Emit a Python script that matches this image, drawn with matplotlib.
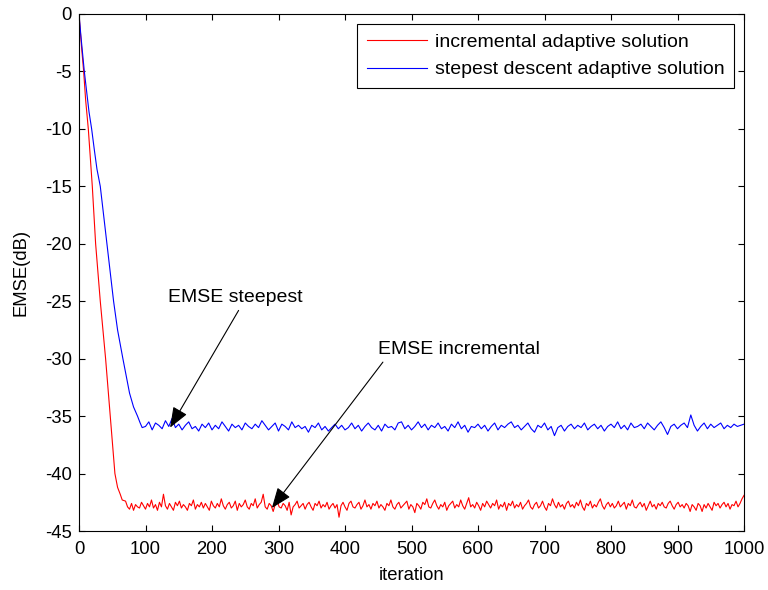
import numpy as np
import matplotlib
matplotlib.use("Agg")
import matplotlib.pyplot as plt

plt.rcParams['font.family'] = ['Liberation Sans', 'DejaVu Sans']
plt.rcParams['axes.unicode_minus'] = False

# ---- data: incremental (red) ----
red_trans_iter = [0, 2, 4, 7, 10, 14, 17, 20, 25, 32, 40, 47, 54, 58, 62, 65]
red_trans_val = [0, -1.5, -3, -5, -7.5, -10, -12.5, -15, -20, -25, -30, -35, -40, -41.2, -41.8, -42.3]
red_flat_start, red_flat_step = 70, 3
red_flat_val = [
    -42.4, -42.9, -43.1, -42.6, -43.2, -42.7, -42.9, -43.0, -42.5, -42.8,
    -43.1, -42.6, -42.9, -42.3, -43.0, -42.7, -43.2, -42.5, -42.9, -41.8,
    -42.8, -43.1, -42.6, -42.9, -43.2, -42.5, -42.8, -42.4, -43.0, -42.7,
    -42.9, -43.2, -42.6, -42.8, -42.3, -43.1, -42.7, -42.9, -42.5, -43.0,
    -42.6, -42.9, -43.2, -42.4, -42.8, -43.0, -42.6, -42.9, -42.2, -42.8,
    -43.1, -42.7, -42.5, -43.0, -42.8, -42.4, -43.2, -42.6, -42.9, -42.7,
    -42.3, -42.9, -43.1, -42.6, -42.8, -42.2, -43.0, -42.7, -42.5, -41.8,
    -42.9, -43.1, -42.6, -42.8, -43.3, -42.7, -42.4, -42.9, -43.0, -42.6,
    -42.8, -43.2, -42.5, -43.6, -42.9, -42.7, -42.4, -43.0, -42.8, -42.6,
    -43.1, -42.7, -42.5, -42.9, -43.2, -42.6, -42.8, -42.4, -43.0, -42.7,
    -42.9, -42.5, -43.1, -42.8, -42.6, -43.0, -42.7, -43.8, -42.8, -42.5,
    -42.9, -43.2, -42.6, -42.4, -42.9, -43.0, -42.7, -42.5, -43.1, -42.8,
    -42.3, -42.9, -42.7, -43.1, -42.6, -42.8, -42.4, -43.0, -42.7, -42.9,
    -43.2, -42.6, -42.8, -42.3, -42.9, -43.1, -42.7, -42.5, -43.0, -42.8,
    -42.6, -42.4, -43.1, -42.7, -42.9, -43.4, -42.6, -42.8, -43.1, -42.5,
    -42.7, -42.2, -42.9, -43.0, -42.6, -42.3, -42.8, -43.1, -42.7, -42.9,
    -42.5, -43.2, -42.8, -42.6, -42.4, -43.0, -42.7, -42.9, -42.3, -42.8,
    -43.1, -42.6, -42.1, -42.9, -42.7, -43.0, -42.5, -42.8, -43.2, -42.6,
    -42.9, -42.4, -42.7, -43.0, -42.6, -42.8, -42.3, -43.1, -42.7, -42.9,
    -42.5, -43.2, -42.6, -42.8, -42.4, -43.0, -42.7, -42.9, -42.5, -43.1,
    -42.8, -42.6, -42.3, -42.9, -43.1, -42.7, -42.5, -43.0, -42.8, -42.4,
    -42.9, -43.2, -42.6, -42.8, -42.2, -42.7, -43.0, -42.5, -42.9, -42.7,
    -43.1, -42.6, -42.4, -42.9, -42.7, -43.0, -42.5, -42.8, -42.3, -42.9,
    -43.2, -42.6, -42.8, -42.4, -43.0, -42.7, -42.9, -42.5, -42.2, -42.8,
    -43.1, -42.7, -42.5, -42.9, -42.6, -43.0, -42.8, -42.4, -42.9, -42.7,
    -42.5, -43.1, -42.6, -42.8, -42.3, -42.9, -43.0, -42.7, -42.5, -42.9,
    -42.6, -43.2, -42.8, -42.4, -42.9, -42.7, -43.1, -42.6, -42.8, -42.5,
    -42.9, -43.0, -42.6, -42.4, -42.8, -43.1, -42.7, -42.5, -42.9, -42.7,
    -43.0, -42.6, -42.8, -43.3, -42.7, -42.9, -43.2, -42.6, -42.8, -43.3,
    -42.7, -43.0, -42.6, -42.9, -43.2, -42.5, -42.8, -42.6, -43.0, -42.7,
    -42.5, -42.9, -42.6, -43.1, -42.7, -42.8, -42.4, -42.9, -42.6, -42.2,
    -41.9,
]

# ---- data: steepest descent (blue) ----
blue_trans_iter = [0, 3, 5, 8, 12, 15, 19, 23, 27, 32, 37, 42, 47, 52, 58, 66, 71, 76, 82, 88, 92, 95]
blue_trans_val = [0, -2, -3.2, -5, -7, -8.5, -10, -11.8, -13.5, -15, -17.5, -20, -22.5, -25, -27.5,
                  -30, -31.5, -33, -34.2, -35, -35.6, -36.0]
blue_flat_start, blue_flat_step = 100, 5
blue_flat_val = [
    -35.9, -35.5, -36.2, -35.6, -35.8, -36.1, -35.4, -35.9, -35.2, -36.0,
    -35.7, -36.2, -35.8, -35.5, -36.1, -35.9, -36.3, -35.7, -36.0, -35.6,
    -36.2, -35.8, -36.1, -35.5, -35.9, -36.3, -35.7, -36.0, -35.8, -36.2,
    -35.6, -35.9, -36.1, -35.7, -36.0, -35.4, -35.8, -36.2, -35.9, -35.6,
    -36.3, -35.7, -35.9, -36.2, -35.5, -36.0, -35.8, -36.1, -35.9, -36.4,
    -35.8, -36.0, -35.6, -36.2, -35.9, -36.3, -36.0, -35.7, -36.1, -35.8,
    -36.2, -36.0, -35.6, -36.1, -35.8, -36.3, -35.9, -35.6, -36.0, -36.2,
    -35.8, -36.3, -35.7, -36.0, -35.9, -36.2, -35.6, -35.5, -36.1, -35.8,
    -36.2, -35.9, -35.5, -36.0, -35.7, -36.2, -35.8, -36.0, -35.6, -36.1,
    -35.9, -36.3, -35.7, -36.0, -35.5, -36.1, -35.8, -36.4, -35.9, -36.0,
    -35.7, -36.1, -35.8, -36.3, -35.9, -35.6, -36.2, -35.8, -36.0, -35.7,
    -35.5, -36.0, -35.8, -36.2, -35.9, -35.6, -36.1, -36.4, -35.8, -36.0,
    -35.6, -36.2, -35.9, -36.7, -36.0, -35.8, -36.3, -35.9, -35.7, -36.1,
    -35.8, -36.0, -35.6, -36.2, -35.9, -35.7, -36.1, -35.8, -36.3, -35.9,
    -35.7, -36.0, -35.5, -36.1, -35.8, -36.2, -35.6, -36.0, -35.9, -35.7,
    -36.1, -35.6, -35.9, -36.2, -35.8, -35.5, -36.0, -36.6, -35.9, -35.7,
    -36.1, -35.8, -35.6, -36.0, -34.9, -35.8, -36.3, -35.9, -35.6, -36.1,
    -35.7, -36.0, -35.8, -35.6, -36.1, -35.8, -36.0, -35.7, -35.9, -35.8,
    -35.7,
]

xticks = list(range(0, 1001, 100))
yticks = list(range(-45, 1, 5))
legend_labels = ['incremental adaptive solution', 'stepest descent adaptive solution']

red_x = red_trans_iter + [red_flat_start + red_flat_step * i for i in range(len(red_flat_val))]
red_y = red_trans_val + red_flat_val
blue_x = blue_trans_iter + [blue_flat_start + blue_flat_step * i for i in range(len(blue_flat_val))]
blue_y = blue_trans_val + blue_flat_val

fig = plt.figure(figsize=(7.68, 5.90), dpi=100)
ax = fig.add_axes([79/768, 1 - 531/590, (744 - 79)/768, (531 - 14)/590])

ax.plot(red_x, red_y, color=(1, 0, 0), lw=0.8, label=legend_labels[0])
ax.plot(blue_x, blue_y, color=(0, 0, 1), lw=0.8, label=legend_labels[1])

ax.set_xlim(0, 1000)
ax.set_ylim(-45, 0)
ax.set_xticks(xticks)
ax.set_yticks(yticks)
ax.tick_params(direction='in', top=True, right=True, labelsize=13.3, length=4, width=0.8, pad=5)
ax.tick_params(axis='x', pad=7.5)
for s in ax.spines.values():
    s.set_linewidth(0.8)

ax.set_xlabel('iteration', fontsize=13.3, labelpad=6)
ax.set_ylabel('EMSE(dB)', fontsize=13.3, labelpad=11)

leg = ax.legend(loc='upper right', fontsize=14, handlelength=3.1, handletextpad=0.4,
                borderaxespad=0.5, borderpad=0.5, fancybox=False, framealpha=1,
                edgecolor='black', labelspacing=0.5)
leg.get_frame().set_linewidth(0.8)

arrow_kw = dict(arrowstyle='-|>,head_length=0.9,head_width=0.35', color='black', lw=0.8,
                shrinkA=0, shrinkB=0, mutation_scale=14)
ax.text(134, -24.7, 'EMSE steepest', fontsize=14, va='center', ha='left')
ax.annotate('', xy=(137, -36.0), xytext=(240, -25.8), arrowprops=arrow_kw)
ax.text(450, -29.2, 'EMSE incremental', fontsize=14, va='center', ha='left')
ax.annotate('', xy=(290, -43.0), xytext=(457, -30.3), arrowprops=arrow_kw)

fig.savefig('out.png', dpi=100)
